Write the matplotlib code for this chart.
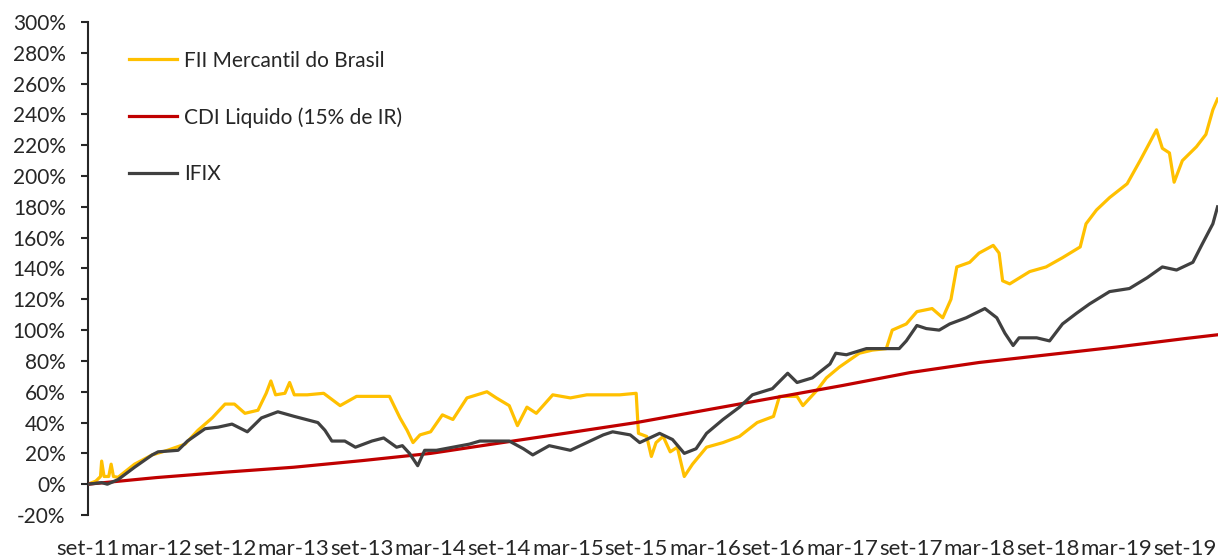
import matplotlib
matplotlib.use("Agg")
import matplotlib.pyplot as plt
from matplotlib.ticker import FuncFormatter

# months since set-11, cumulative return in %
fii_m = [0, 0.69, 1.10, 1.20, 1.41, 1.82, 2.03, 2.23, 2.64, 4.08, 5.62, 6.96, 8.50, 9.63,
         10.87, 12.00, 12.82, 13.74, 14.88, 15.60, 16.01, 16.42, 17.24, 17.65, 18.06,
         19.19, 20.63, 22.07, 23.51, 24.85, 26.39, 27.31, 27.93, 28.45, 29.06, 29.99,
         31.02, 31.94, 33.17, 34.92, 35.74, 36.87, 37.59, 38.42, 39.24, 40.68, 42.22,
         43.66, 45.10, 46.54, 47.98, 48.18, 48.90, 49.31, 49.72, 50.34, 50.96, 51.58,
         52.19, 52.91, 54.14, 55.58, 57.02, 58.57, 60.00, 60.52, 62.06, 62.57, 63.81,
         64.63, 65.76, 67.51, 68.64, 69.87, 70.39, 71.62, 72.55, 73.88, 74.81, 75.53,
         76.04, 77.17, 77.99, 79.23, 79.74, 80.05, 80.67, 82.42, 83.85, 85.29, 86.84,
         87.35, 88.27, 89.41, 90.95, 92.08, 93.52, 94.03, 94.65, 95.06, 95.78, 97.01,
         97.84, 98.45, 98.86]
fii_v = [0, 2, 5, 15, 5, 5, 13, 5, 4.5, 13, 19, 22, 26, 35,
         43, 52, 52, 46, 48, 59, 67, 58, 59, 66, 58,
         58, 59, 51, 57, 57, 57, 43, 35, 27, 32, 34,
         45, 42, 56, 60, 56, 51, 38, 50, 46, 58, 56,
         58, 58, 58, 59, 33, 31, 18, 27, 31, 21, 24,
         5, 13, 24, 27, 31, 40, 44, 57, 57, 51, 61,
         69, 76, 85, 87, 88, 100, 104, 112, 114, 108, 120,
         141, 144, 150, 155, 150, 132, 130, 138, 141, 147, 154,
         169, 178, 186, 195, 210, 230, 218, 215, 196, 210, 219,
         227, 243, 250]

cdi_m = [0, 6, 12, 18, 24, 30, 36, 42, 48, 54, 60, 66, 72, 78, 84, 90, 96, 98.9]
cdi_v = [0, 4.3, 7.8, 11, 15.3, 20, 26.7, 33.3, 40, 48, 56, 64, 72.5, 79, 84, 89, 94.5, 97]

ifix_m = [0, 1.2, 1.7, 2.64, 4.08, 5.62, 6.14, 7.89, 8.71, 10.25, 11.38, 12.61, 13.95,
          15.18, 16.62, 18.06, 20.12, 20.74, 21.35, 22.48, 23.41, 24.85, 25.88, 27.01,
          27.52, 28.14, 28.86, 29.47, 30.50, 31.94, 33.38, 34.30, 35.74, 36.87, 38.11,
          38.93, 40.37, 42.22, 43.66, 45.10, 45.92, 47.46, 48.29, 50.03, 51.16, 52.19,
          53.22, 54.14, 55.58, 57.02, 58.15, 59.90, 61.24, 62.06, 63.40, 64.94, 65.45,
          66.38, 68.13, 69.87, 71.00, 71.62, 72.55, 73.37, 74.50, 75.42, 76.86, 78.50,
          79.54, 80.25, 80.97, 81.49, 83.03, 84.16, 85.29, 86.53, 87.66, 89.41, 91.15,
          92.70, 94.03, 95.27, 96.70, 97.53, 98.45, 98.86]
ifix_v = [0, 1, 0, 3, 11, 19, 21, 22, 28, 36, 37, 39, 34,
          43, 47, 44, 40, 35, 28, 28, 24, 28, 30, 24,
          25, 20, 12, 22, 22, 24, 26, 28, 28, 28, 23,
          19, 25, 22, 27, 32, 34, 32, 27, 33, 29, 20,
          23, 33, 42, 50, 58, 62, 72, 66, 69, 78, 85,
          84, 88, 88, 88, 93, 103, 101, 100, 104, 108, 114,
          108, 98, 90, 95, 95, 93, 104, 111, 117, 125, 127,
          134, 141, 139, 144, 156, 169, 180]

tick_labels = ["set-11", "mar-12", "set-12", "mar-13", "set-13", "mar-14", "set-14",
               "mar-15", "set-15", "mar-16", "set-16", "mar-17", "set-17", "mar-18",
               "set-18", "mar-19", "set-19"]

plt.rcParams['font.family'] = ['Lato', 'DejaVu Sans']
txt = '#262626'

fig = plt.figure(figsize=(12.18, 5.59), dpi=100)
ax = fig.add_axes([0.0722, 0.0787, 0.9278, 0.882])

ax.plot(fii_m, fii_v, color='#FFC000', lw=2.3, label='FII Mercantil do Brasil', zorder=2)
ax.plot(cdi_m, cdi_v, color='#C00000', lw=2.3, label='CDI Liquido (15% de IR)', zorder=3)
ax.plot(ifix_m, ifix_v, color='#404040', lw=2.3, label='IFIX', zorder=4)

ax.set_xlim(0, 98.9)
ax.set_ylim(-20, 300)
ax.set_yticks(range(-20, 301, 20))
ax.yaxis.set_major_formatter(FuncFormatter(lambda v, p: f"{v:.0f}%"))
ax.set_xticks(range(0, 97, 6))
ax.set_xticklabels(tick_labels)

for s in ['top', 'right', 'bottom']:
    ax.spines[s].set_visible(False)
ax.spines['left'].set_color(txt)
ax.spines['left'].set_linewidth(1.5)
ax.tick_params(axis='y', direction='out', length=5, width=1.5, color=txt,
               labelsize=15, labelcolor=txt, pad=11)
ax.tick_params(axis='x', length=0, labelsize=16, labelcolor=txt, pad=17)

ax.legend(loc='upper left', bbox_to_anchor=(0.02, 0.98), frameon=False, fontsize=15,
          handlelength=2.3, handletextpad=0.35, labelspacing=1.75, labelcolor=txt)

fig.savefig('out.png', dpi=100)
